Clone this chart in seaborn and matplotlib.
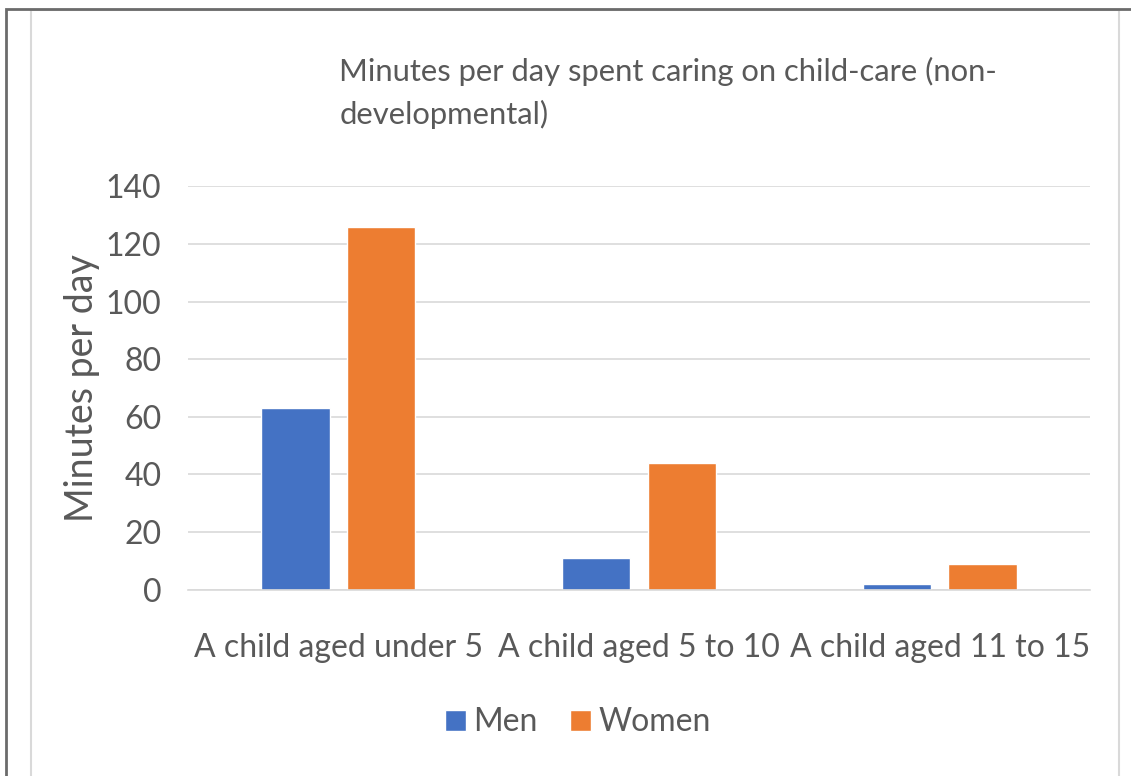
import pandas as pd
import matplotlib
matplotlib.use("Agg")
import matplotlib.pyplot as plt
from matplotlib.patches import Rectangle
import seaborn as sns

categories = ["A child aged under 5", "A child aged 5 to 10", "A child aged 11 to 15"]
men = [63, 11, 2]
women = [126, 44, 9]
series = ["Men", "Women"]
yticks = [0, 20, 40, 60, 80, 100, 120, 140]

df = pd.DataFrame({
    "Age": categories * 2,
    "Sex": ["Men"] * 3 + ["Women"] * 3,
    "Minutes": men + women,
})

sns.set_theme(style="white")
plt.rcParams["font.family"] = ["Lato", "DejaVu Sans"]
text_col = "#595959"

fig = plt.figure(figsize=(11.31, 7.76), dpi=100)
# frame lines like the screenshot
fig.add_artist(Rectangle((0.027, -0.01), 0.962, 0.997, transform=fig.transFigure,
                         fill=False, edgecolor="#d9d9d9", linewidth=1.5))
fig.add_artist(Rectangle((0.005, -0.01), 1.1, 0.999, transform=fig.transFigure,
                         fill=False, edgecolor="#6b6b6b", linewidth=2))

ax = fig.add_axes([0.166, 0.240, 0.798, 0.520])

sns.barplot(data=df, x="Age", y="Minutes", hue="Sex", order=categories, hue_order=series,
            palette={"Men": "#4472C4", "Women": "#ED7D31"}, width=0.567, gap=0.2,
            saturation=1, ax=ax, legend=True)

ax.set_ylim(0, 140)
ax.set_yticks(yticks)
ax.yaxis.grid(True, color="#d9d9d9", linewidth=1.2)
ax.set_axisbelow(True)
for s in ["top", "right", "left"]:
    ax.spines[s].set_visible(False)
ax.spines["bottom"].set_color("#d9d9d9")
ax.spines["bottom"].set_linewidth(1.2)
ax.tick_params(axis="both", length=0, labelsize=23, colors=text_col)
ax.tick_params(axis="x", pad=31)
ax.tick_params(axis="y", pad=19)
ax.set_xlabel("")
ax.set_ylabel("Minutes per day", fontsize=27, color=text_col, labelpad=4)

fig.text(0.300, 0.880, "Minutes per day spent caring on child-care (non-\ndevelopmental)",
         fontsize=22.3, color=text_col, ha="left", va="center", linespacing=1.55)

handles, labels = ax.get_legend_handles_labels()
ax.legend_.remove()
fig.legend(handles, labels, loc="center", bbox_to_anchor=(0.511, 0.069), ncol=2, frameon=False,
           fontsize=23, labelcolor=text_col, handlelength=0.65, handleheight=0.65,
           handletextpad=0.25, columnspacing=1.0)

fig.savefig("out.png", dpi=100)
